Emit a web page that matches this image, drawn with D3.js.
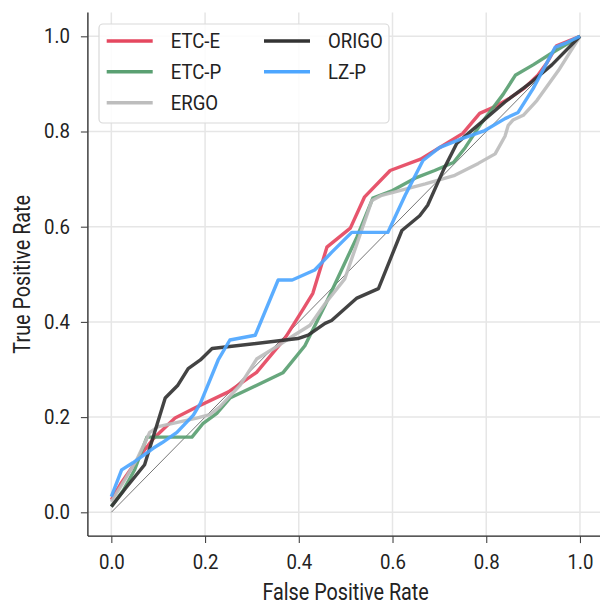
<!DOCTYPE html>
<html><head><meta charset="utf-8">
<script src="https://cdn.jsdelivr.net/npm/d3@7"></script>
<style>
html,body{margin:0;padding:0;background:#fff;}
svg{display:block;}
text{font-family:"Roboto",sans-serif;fill:#222;}
.cond{transform-box:fill-box;transform:scaleX(0.93);}
.lab{transform-box:fill-box;transform:scaleX(0.86);}
.cs{transform-origin:left center;}
.cm{transform-origin:center center;}
.ce{transform-origin:right center;}
</style></head>
<body><svg id="c" width="600" height="604"></svg>
<script>
const seriesNames = ["ETC-E","ETC-P","ERGO","ORIGO","LZ-P"];
const seriesColors = ["#E5475F","#5AA072","#BDBDBD","#333333","#4DA6FF"];
const xTicks = [0.0,0.2,0.4,0.6,0.8,1.0];
const yTicks = [0.0,0.2,0.4,0.6,0.8,1.0];

const etcE = [[0,0.026],[0.02,0.06],[0.06,0.117],[0.09,0.155],[0.136,0.198],[0.18,0.22],[0.25,0.253],[0.31,0.294],[0.37,0.365],[0.41,0.428],[0.43,0.46],[0.46,0.557],[0.51,0.597],[0.54,0.662],[0.595,0.718],[0.66,0.742],[0.70,0.766],[0.75,0.796],[0.786,0.838],[0.82,0.853],[0.85,0.87],[0.88,0.89],[0.91,0.918],[0.93,0.945],[0.95,0.98],[1,1]];
const etcP = [[0,0.012],[0.025,0.045],[0.05,0.09],[0.076,0.158],[0.172,0.158],[0.196,0.187],[0.225,0.208],[0.253,0.24],[0.366,0.293],[0.413,0.35],[0.456,0.435],[0.484,0.494],[0.524,0.578],[0.558,0.66],[0.60,0.676],[0.648,0.702],[0.69,0.718],[0.73,0.735],[0.755,0.766],[0.79,0.818],[0.836,0.878],[0.862,0.918],[0.90,0.94],[0.94,0.965],[1,1]];
const ergo = [[0,0.022],[0.03,0.07],[0.054,0.11],[0.082,0.168],[0.10,0.18],[0.182,0.198],[0.21,0.205],[0.232,0.222],[0.275,0.267],[0.31,0.322],[0.356,0.35],[0.39,0.372],[0.424,0.393],[0.456,0.438],[0.498,0.49],[0.556,0.655],[0.577,0.666],[0.67,0.69],[0.733,0.708],[0.783,0.733],[0.819,0.753],[0.84,0.79],[0.847,0.813],[0.857,0.824],[0.879,0.834],[0.908,0.865],[0.954,0.928],[1,1]];
const origo = [[0,0.012],[0.03,0.05],[0.071,0.1],[0.115,0.24],[0.125,0.25],[0.142,0.267],[0.164,0.302],[0.19,0.32],[0.215,0.344],[0.398,0.365],[0.42,0.372],[0.456,0.397],[0.47,0.403],[0.524,0.45],[0.57,0.47],[0.62,0.592],[0.658,0.623],[0.675,0.645],[0.71,0.722],[0.737,0.775],[0.84,0.862],[0.898,0.905],[0.94,0.94],[1,1]];
const lzP = [[0,0.033],[0.022,0.089],[0.046,0.104],[0.09,0.135],[0.108,0.146],[0.14,0.168],[0.175,0.204],[0.19,0.229],[0.228,0.32],[0.253,0.362],[0.307,0.372],[0.356,0.488],[0.386,0.488],[0.434,0.509],[0.47,0.546],[0.513,0.588],[0.59,0.588],[0.627,0.666],[0.665,0.739],[0.70,0.766],[0.748,0.785],[0.797,0.802],[0.84,0.827],[0.868,0.84],[0.90,0.89],[0.947,0.977],[0.968,0.985],[1,1]];
const diag = [[0,0],[1,1]];

const seriesData = [etcE, etcP, ergo, origo, lzP];

const svg = d3.select("#c");
const x = d3.scaleLinear().domain([-0.05,1.05]).range([87.9,603.4]);
const y = d3.scaleLinear().domain([-0.05,1.05]).range([536.1,12.5]);
const fs = 20;
const fl = 23;

// grid
const g = svg.append("g");
g.selectAll("line.gx").data(xTicks).enter().append("line")
  .attr("x1",d=>x(d)).attr("x2",d=>x(d)).attr("y1",y(-0.05)).attr("y2",y(1.05))
  .attr("stroke","#e6e6e6").attr("stroke-width",1.5);
g.selectAll("line.gy").data(yTicks).enter().append("line")
  .attr("y1",d=>y(d)).attr("y2",d=>y(d)).attr("x1",x(-0.05)).attr("x2",x(1.05))
  .attr("stroke","#e6e6e6").attr("stroke-width",1.5);

// diagonal
const line = d3.line().x(d=>x(d[0])).y(d=>y(d[1]));
svg.append("path").attr("d",line(diag)).attr("fill","none").attr("stroke","#666").attr("stroke-width",0.9);

// series
seriesData.forEach((s,i)=>{
  svg.append("path").attr("d",line(s)).attr("fill","none")
    .attr("stroke",seriesColors[i]).attr("stroke-width",3.4).attr("stroke-opacity",0.92)
    .attr("stroke-linejoin","round");
});

// axes
const xa = svg.append("g").attr("transform",`translate(0,${y(-0.05)})`)
  .call(d3.axisBottom(x).tickValues(xTicks).tickFormat(d3.format(".1f")).tickSize(7).tickPadding(12));
const ya = svg.append("g").attr("transform",`translate(${x(-0.05)},0)`)
  .call(d3.axisLeft(y).tickValues(yTicks).tickFormat(d3.format(".1f")).tickSize(7).tickPadding(11));
[xa,ya].forEach(a=>{
  a.attr("font-family",null).attr("font-size",null);
  a.select(".domain").attr("stroke","#222").attr("stroke-width",1.3);
  a.selectAll(".tick line").attr("stroke","#444").attr("stroke-width",1.1);
  a.selectAll(".tick text").attr("font-size",fs).attr("fill","#222");
});
xa.selectAll(".tick text").attr("class","cond cm");
ya.selectAll(".tick text").attr("class","cond ce");
xa.select(".domain").attr("d",`M${x(-0.05)},0H${x(1.05)}`);
ya.select(".domain").attr("d",`M0,${y(-0.05)}V${y(1.05)}`);

// axis labels
svg.append("text").attr("class","lab cm").attr("x",(x(-0.05)+x(1.05))/2).attr("y",600).attr("text-anchor","middle")
  .attr("font-size",fl).text("False Positive Rate");
svg.append("g").attr("transform",`translate(29.5,${(y(-0.05)+y(1.05))/2}) rotate(-90)`)
  .append("text").attr("class","lab cm").attr("text-anchor","middle").attr("font-size",fl).text("True Positive Rate");

// legend
const lg = svg.append("g");
lg.append("rect").attr("x",99).attr("y",24).attr("width",290).attr("height",99).attr("rx",4)
  .attr("fill","#fff").attr("fill-opacity",0.85).attr("stroke","#d9d9d9").attr("stroke-width",1.2);
const legPos = [[106.7,41],[106.7,71.7],[106.7,102.7],[264,41],[264,71.7]];
seriesNames.forEach((n,i)=>{
  const [lx,ly] = legPos[i];
  lg.append("line").attr("x1",lx).attr("x2",lx+46).attr("y1",ly).attr("y2",ly)
    .attr("stroke",seriesColors[i]).attr("stroke-width",3.4);
  lg.append("text").attr("class","cond cs").attr("x",lx+64).attr("y",ly+7.5).attr("font-size",fs).text(n);
});
</script></body></html>
